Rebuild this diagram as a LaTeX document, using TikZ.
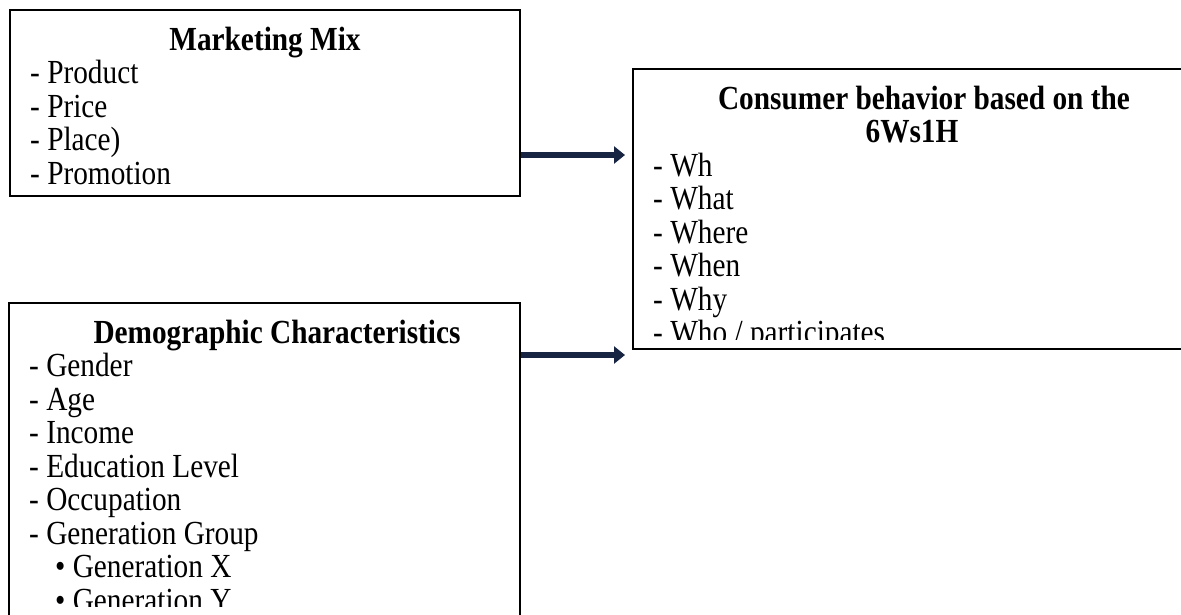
\documentclass[tikz,border=0pt]{standalone}
\usepackage{fontspec}
\setmainfont{Liberation Serif}
\usetikzlibrary{arrows.meta}
\definecolor{arrownavy}{RGB}{23,37,66}

\tikzset{
  panel/.style={draw, line width=2pt, inner sep=0pt},
  heading/.style={font=\fontsize{29.3}{33.5}\selectfont\bfseries, inner sep=0pt, anchor=base, yscale=1.15},
  entry/.style={font=\fontsize{29.3}{33.5}\selectfont, inner sep=0pt, anchor=base west, yscale=1.15},
  flow/.style={-{Triangle[length=11pt,width=17pt]}, line width=6.5pt, arrownavy, shorten >=7pt},
}

\begin{document}
\begin{tikzpicture}[x=1pt, y=-1pt]
            \useasboundingbox (0,0) rectangle (1181,614);
            \clip (0,0) rectangle (1181,614);

            % Boxes
            \node[panel, minimum width=510pt, minimum height=186pt] (mix) at (265,103) {};
            \node[panel, minimum width=511pt, minimum height=317pt] (demo) at (264.5,461.5) {};
            \node[panel, minimum width=583pt, minimum height=280pt] (cons) at (924.5,209) {};

            % Marketing mix
            \node[heading] (mixT) at (265,50) {Marketing Mix};
            \foreach \t [count=\i] in {Product, Price, Place), Promotion}
                \node[entry] (mix\i) at (30,50+33.5*\i) {- \t};

            % Demographic characteristics
            \node[heading] (demoT) at (277,343) {Demographic Characteristics};
            \begin{scope}
                \clip (demo.north west) rectangle (520,606);
                \foreach \t [count=\i] in {Gender, Age, Income, Education Level, Occupation, Generation Group}
                    \node[entry] (demo\i) at (29,343+33.5*\i) {- \t};
                \node[entry] (genX) at (55,577.5) {\textbullet\ Generation X};
                \node[entry] (genY) at (55,611) {\textbullet\ Generation Y};
            \end{scope}

            % Consumer behavior
            \node[heading] (consT) at (924,109) {Consumer behavior based on the};
            \node[heading] (consS) at (912,142.5) {6Ws1H};
            \begin{scope}
                \clip (cons.north west) rectangle (1181,339);
                \foreach \t [count=\i] in {Wh, What, Where, When, Why, {Who / participates}}
                    \node[entry] (cons\i) at (653,142.5+33.5*\i) {- \t};
            \end{scope}

            % Arrows
            \draw[flow] (mix.east |- 0,155) -- (cons.west |- 0,155);
            \draw[flow] (demo.east |- 0,355) -- (cons.west |- 0,355);

\end{tikzpicture}
\end{document}
